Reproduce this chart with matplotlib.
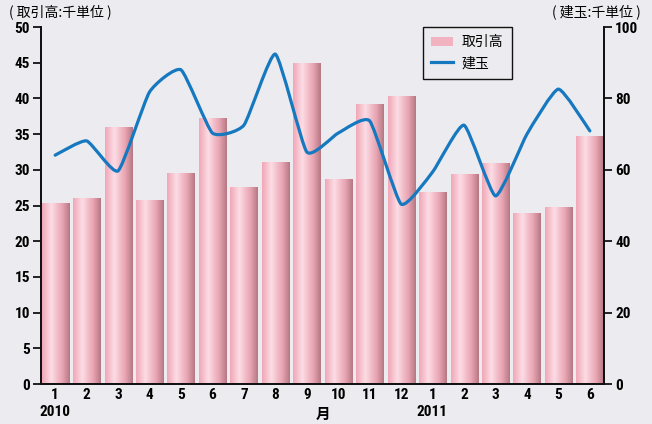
import numpy as np
import matplotlib
matplotlib.use("Agg")
import matplotlib.pyplot as plt
from matplotlib.path import Path
from matplotlib.patches import PathPatch, Patch
from matplotlib.lines import Line2D
from matplotlib.colors import LinearSegmentedColormap
import matplotlib.font_manager as fm

# narrow bold font for numbers, if there is one
names = set(f.name for f in fm.fontManager.ttflist)
num_font = ['DejaVu Sans']
for nm in ['Liberation Sans Narrow', 'Roboto Condensed', 'Open Sans Condensed']:
    if nm in names:
        num_font = [nm, 'DejaVu Sans']
        break
cjk = ['Noto Sans CJK JP', 'DejaVu Sans']
plt.rcParams['font.family'] = num_font

months = ['1', '2', '3', '4', '5', '6', '7', '8', '9', '10', '11', '12',
          '1', '2', '3', '4', '5', '6']
# 取引高 (左軸)
volume = [25.3, 26.1, 36.0, 25.8, 29.5, 37.3, 27.6, 31.1, 45.0, 28.7, 39.2, 40.4,
          26.9, 29.4, 30.9, 23.9, 24.8, 34.7]
# 建玉 (右軸)
open_int = [64.1, 68.1, 59.7, 81.8, 88.0, 70.3, 72.5, 92.4, 65.0, 70.3, 73.7, 50.4,
            59.4, 72.5, 52.7, 70.0, 82.6, 70.9]

bg = '#ecebef'
line_col = '#1679c0'

fig = plt.figure(figsize=(6.52, 4.24), dpi=100, facecolor=bg)
ax = fig.add_axes([0.0629, 0.0943, 0.8635, 0.842], facecolor=bg)
ax2 = ax.twinx()

x = np.arange(len(volume))
w = 0.86
cmap = LinearSegmentedColormap.from_list('pinkbar', [
    (0.0, '#f1a7b7'), (0.33, '#fcdce5'), (0.72, '#eaa6b4'), (1.0, '#b67884')])
grad = np.linspace(0, 1, 64).reshape(1, -1)
bars = ax.bar(x, volume, width=w, color='#f4b8c4', zorder=1)
for b in bars:
    bx, by = b.get_x(), b.get_y()
    im = ax.imshow(grad, cmap=cmap, aspect='auto', zorder=2,
                   extent=[bx, bx + b.get_width(), by, by + b.get_height()])
    im.set_clip_path(b)

ax.set_xlim(-0.45, len(volume) - 0.55)
ax.set_ylim(0, 50)
ax2.set_ylim(0, 100)
ax.set_yticks(range(0, 51, 5))
ax2.set_yticks(range(0, 101, 20))

# 建玉: near-straight segments with rounded corners (low-tension bezier)
pts = np.column_stack([x, open_int])
verts = [pts[0]]
codes = [Path.MOVETO]
n = len(pts)
k = 1 / 12.0
for i in range(n - 1):
    p0 = pts[max(i - 1, 0)]
    p1 = pts[i]
    p2 = pts[i + 1]
    p3 = pts[min(i + 2, n - 1)]
    c1 = p1 + (p2 - p0) * k
    c2 = p2 - (p3 - p1) * k
    verts += [c1, c2, p2]
    codes += [Path.CURVE4] * 3
ax2.add_patch(PathPatch(Path(verts, codes), facecolor='none', edgecolor=line_col,
                        lw=2.3, capstyle='round', joinstyle='round', zorder=3))

ax.spines['top'].set_visible(False)
ax2.spines['top'].set_visible(False)
for a in (ax, ax2):
    for s in ['left', 'right', 'bottom']:
        a.spines[s].set_linewidth(1.3)
        a.spines[s].set_color('#111111')

ax.set_xticks(x)
ax.set_xticklabels(months, fontsize=11, fontweight='bold')
ax.tick_params(axis='x', length=0, pad=3)
ax.tick_params(axis='y', length=6, width=1.2, labelsize=11, pad=2)
ax2.tick_params(axis='y', length=6, width=1.2, labelsize=11, pad=2)
for lab in ax.get_yticklabels() + ax2.get_yticklabels():
    lab.set_fontweight('bold')

fig.text(0.085, 0.028, '2010', fontsize=11, fontweight='bold', ha='center', va='center')
fig.text(0.663, 0.028, '2011', fontsize=11, fontweight='bold', ha='center', va='center')
fig.text(0.495, 0.024, '月', fontsize=10.5, fontweight='bold', ha='center', va='center',
         family=cjk)
fig.text(0.014, 0.972, '( 取引高:千単位 )', fontsize=10, ha='left', va='center',
         family=cjk)
fig.text(0.983, 0.972, '( 建玉:千単位 )', fontsize=10, ha='right', va='center',
         family=cjk)

handles = [Patch(facecolor='#f2b3c0', edgecolor='none'),
           Line2D([0], [0], color=line_col, lw=2.3)]
leg = ax2.legend(handles, ['取引高', '建玉'], loc='upper left',
                 bbox_to_anchor=(0.678, 1.0), fancybox=False, framealpha=1,
                 facecolor=bg, edgecolor='#111111',
                 prop={'family': cjk, 'size': 10},
                 handlelength=1.6, handletextpad=0.6, borderpad=0.6,
                 labelspacing=0.5, borderaxespad=0)
leg.get_frame().set_linewidth(1.0)

fig.savefig('out.png', dpi=100, facecolor=bg)
